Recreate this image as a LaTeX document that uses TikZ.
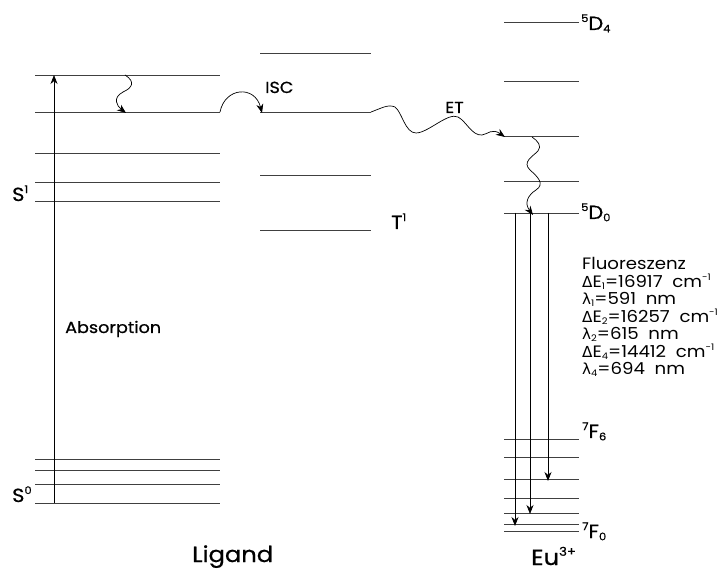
\documentclass[tikz,border=0pt]{standalone}
\usepackage{fontspec}
\usepackage{graphicx}
\setmainfont{Poppins}[FakeStretch=1.1]
\newfontfamily\lbl{Poppins}[FakeStretch=1.1,UprightFeatures={FakeBold=0.7}]
\newfontfamily\gk{DejaVu Sans}[Scale=0.92]
\usetikzlibrary{arrows.meta}
\newcommand{\sub}[1]{\raisebox{-0.12em}{\scalebox{0.55}{#1}}}
\newcommand{\sups}[1]{\raisebox{0.42em}{\scalebox{0.55}{#1}}}
\begin{document}
\begin{tikzpicture}[x=1pt,y=-1pt,
  lvl/.style={line width=0.9pt, black!75},
  arr/.style={line width=0.7pt, black, -{Stealth[length=9pt,width=7pt]}},
  wav/.style={line width=0.7pt, black, -{Stealth[length=9pt,width=7pt]}},
  lab/.style={font=\lbl\fontsize{16}{18}\selectfont, inner sep=0pt, anchor=base west},
  st/.style={font=\lbl\fontsize{19}{22}\selectfont, inner sep=0pt, anchor=base west},
  big/.style={font=\lbl\fontsize{22}{26}\selectfont, inner sep=0pt, anchor=base west},
  fl/.style={font=\fontsize{16.5}{18}\selectfont, inner sep=0pt, anchor=base west}]
\useasboundingbox (0,0) rectangle (724,572);
% ligand singlet levels
\foreach \y in {75,112,153,182,201,459,470,484,503}
  \draw[lvl] (35,\y) -- (220,\y);
% triplet levels
\foreach \y in {53,112,175,230}
  \draw[lvl] (260,\y) -- (371,\y);
% Eu levels
\foreach \y in {22,81,136,181,213,439,457,479,498,513,524,531}
  \draw[lvl] (504,\y) -- (579,\y);
% coordinates
\coordinate (s0) at (54,503);
\coordinate (s1top) at (54,75);
\coordinate (ic1) at (125,75);
\coordinate (ic2) at (126,113);
\coordinate (isc1) at (220,112);
\coordinate (isc2) at (262,113);
\coordinate (et1) at (371,112);
\coordinate (et2) at (505,137);
\coordinate (eu1) at (532,137);
\coordinate (eu2) at (533,215);
\coordinate (fa) at (515,213);
\coordinate (fb) at (530,213);
\coordinate (fc) at (548,213);
\coordinate (ta) at (515,526);
\coordinate (tb) at (530,514);
\coordinate (tc) at (548,481);
% arrows
\draw[arr] (s0) -- (s1top);
\draw[wav] (ic1) .. controls (136,82) and (132,88) .. (123,92)
  .. controls (112,98) and (117,106) .. (ic2);
\draw[wav] (isc1) .. controls (225,87) and (255,85) .. (isc2);
\draw[wav] (et1) .. controls (382,108) and (388,104) .. (395,107)
  .. controls (402,112) and (405,133) .. (416,133)
  .. controls (428,133) and (448,112) .. (458,117)
  .. controls (466,121) and (472,136) .. (482,135)
  .. controls (488,134) and (492,128) .. (et2);
\draw[wav] (eu1) .. controls (538,141) and (542,146) .. (538,151)
  .. controls (532,157) and (522,162) .. (530,170)
  .. controls (538,177) and (545,184) .. (536,190)
  .. controls (528,195) and (524,203) .. (eu2);
\draw[arr] (fa) -- (ta);
\draw[arr] (fb) -- (tb);
\draw[arr] (fc) -- (tc);
% labels
\node[st] (ls1) at (12,201) {S\sups{1}};
\node[st] (ls0) at (12,502) {S\sups{0}};
\node[st] (lt1) at (391,229) {T\sups{1}};
\node[lab] (labs) at (65,333) {Absorption};
\node[lab] (lisc) at (265,93) {ISC};
\node[lab] (let) at (445,113) {ET};
\node[st] (ld4) at (581,30) {\sups{5}D\sub{4}};
\node[st] (ld0) at (581,219) {\sups{5}D\sub{0}};
\node[st] (lf6) at (582,438) {\sups{7}F\sub{6}};
\node[st] (lf0) at (582,538) {\sups{7}F\sub{0}};
\node[big] (lig) at (192,562) {Ligand};
\node[big] (leu) at (531,565) {Eu\sups{3+}};
\node[fl] (f1) at (582,270) {Fluoreszenz};
\node[fl] (f2) at (582,287.5) {{\gk Δ}E\sub{1}=16917\ \ cm\sups{-1}};
\node[fl] (f3) at (582,305) {{\gk λ}\sub{1}=591\ \ nm};
\node[fl] (f4) at (582,322.5) {{\gk Δ}E\sub{2}=16257\ \ cm\sups{-1}};
\node[fl] (f5) at (582,340) {{\gk λ}\sub{2}=615\ \ nm};
\node[fl] (f6) at (582,357.5) {{\gk Δ}E\sub{4}=14412\ \ cm\sups{-1}};
\node[fl] (f7) at (582,375) {{\gk λ}\sub{4}=694\ \ nm};
\end{tikzpicture}
\end{document}
